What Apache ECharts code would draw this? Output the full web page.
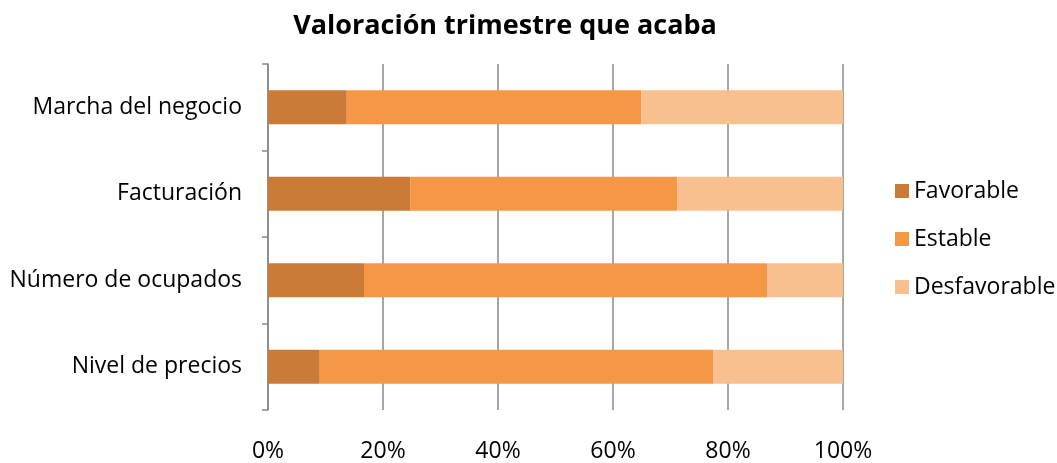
<!DOCTYPE html>
<html><head><meta charset="utf-8">
<script src="https://cdn.jsdelivr.net/npm/echarts@6/dist/echarts.min.js"></script>
<style>html,body{margin:0;padding:0;background:#fff}#c{width:1057px;height:463px}</style>
</head><body><div id="c"></div>
<script>
const categories = ["Marcha del negocio", "Facturación", "Número de ocupados", "Nivel de precios"];
const favorable = [13.7, 24.8, 16.7, 9.0];
const estable = [51.2, 46.4, 70.1, 68.4];
const desfavorable = [35.1, 28.8, 13.2, 22.6];
const seriesNames = ["Favorable", "Estable", "Desfavorable"];
const xTicks = [0, 20, 40, 60, 80, 100];

const font = "'Open Sans', 'Liberation Sans', sans-serif";
const colors = ["#CC7A38", "#F59846", "#F8BF8F"];
const chart = echarts.init(document.getElementById('c'));
const vals = [favorable, estable, desfavorable];
chart.setOption({
  animation: false,
  color: colors,
  title: {
    text: "Valoración trimestre que acaba",
    left: 500, top: 8, textAlign: 'center',
    textStyle: {fontFamily: font, fontSize: 27, fontWeight: 'bold', color: '#000'}
  },
  legend: {
    orient: 'vertical', left: 890, top: 174, itemGap: 24,
    itemWidth: 14, itemHeight: 14, icon: 'rect',
    textStyle: {fontFamily: font, fontSize: 23, lineHeight: 24, color: '#000'},
    data: seriesNames
  },
  grid: {left: 268, right: 214, top: 64, bottom: 52, containLabel: false},
  xAxis: {
    type: 'value', min: xTicks[0], max: xTicks[xTicks.length - 1], interval: 20,
    axisLine: {show: false}, axisTick: {show: false},
    splitLine: {show: true, lineStyle: {color: '#888', width: 1.5}},
    axisLabel: {formatter: v => v + '%', fontFamily: font, fontSize: 23, color: '#000', margin: 30}
  },
  yAxis: {
    type: 'category', data: categories, inverse: true,
    axisLine: {show: true, lineStyle: {color: '#888', width: 1.5}},
    axisTick: {show: true, length: 6, lineStyle: {color: '#888', width: 1.5}},
    axisLabel: {fontFamily: font, fontSize: 23, color: '#000', margin: 26}
  },
  series: seriesNames.map((n, i) => ({
    name: n, type: 'bar', stack: 'total', barWidth: 34,
    data: vals[i], itemStyle: {color: colors[i]}
  }))
});
</script></body></html>
